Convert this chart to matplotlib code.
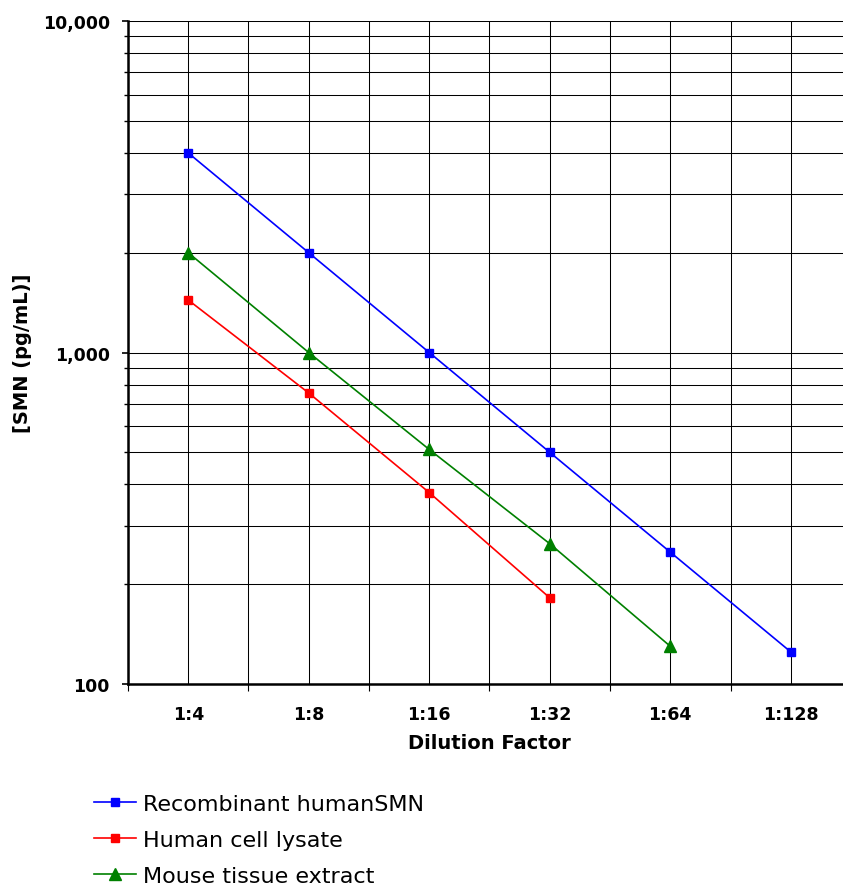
import numpy as np
import matplotlib.pyplot as plt
from matplotlib.ticker import FixedLocator, LogLocator, NullFormatter, FuncFormatter

# данные
dilutions = ['1:4', '1:8', '1:16', '1:32', '1:64', '1:128']
recombinant = [4000, 2000, 1000, 500, 250, 125]
cell_lysate = [1440, 755, 378, 182]
mouse_tissue = [2000, 1000, 510, 265, 130]

fig = plt.figure(figsize=(8.43, 8.87), dpi=100)
ax = fig.add_axes([0.1518, 0.2277, 0.8577, 0.7475])

x = np.arange(len(dilutions))
ax.plot(x[:len(recombinant)], recombinant, color='blue', marker='s', markersize=6,
        linewidth=1.2, label='Recombinant humanSMN')
ax.plot(x[:len(cell_lysate)], cell_lysate, color='red', marker='s', markersize=6,
        linewidth=1.2, label='Human cell lysate')
ax.plot(x[:len(mouse_tissue)], mouse_tissue, color='green', marker='^', markersize=8,
        linewidth=1.2, label='Mouse tissue extract')

ax.set_yscale('log')
ax.set_ylim(100, 10000)
ax.set_xlim(-0.5, len(dilutions) - 0.5)

# подписи по оси X по центру, засечки между категориями
ax.set_xticks(x)
ax.set_xticklabels(dilutions)
ax.xaxis.set_minor_locator(FixedLocator(np.arange(-0.5, len(dilutions), 1.0)))
ax.tick_params(axis='x', which='major', length=0, pad=15, labelsize=12.5)
ax.tick_params(axis='x', which='minor', length=5, width=0.8, direction='out')
for lbl in ax.get_xticklabels():
    lbl.set_fontweight('bold')

ax.yaxis.set_major_locator(LogLocator(base=10, numticks=5))
ax.yaxis.set_minor_locator(LogLocator(base=10, subs=np.arange(2, 10), numticks=20))
ax.yaxis.set_minor_formatter(NullFormatter())
ax.yaxis.set_major_formatter(FuncFormatter(lambda v, p: f'{int(round(v)):,}'))
ax.tick_params(axis='y', which='major', length=4, width=1.2, pad=9, labelsize=12.5)
ax.tick_params(axis='y', which='minor', length=3, width=1.0)
for lbl in ax.get_yticklabels():
    lbl.set_fontweight('bold')

ax.grid(True, which='both', axis='both', color='black', linewidth=0.75)
ax.set_axisbelow(True)
for side in ['top', 'right']:
    ax.spines[side].set_visible(False)
ax.spines['left'].set_linewidth(1.8)
ax.spines['bottom'].set_linewidth(1.8)

ax.set_xlabel('Dilution Factor', fontsize=14, fontweight='bold')
ax.xaxis.set_label_coords(0.5, -0.074)
ax.set_ylabel('[SMN (pg/mL)]', fontsize=14, fontweight='bold')
ax.yaxis.set_label_coords(-0.133, 0.5)

fig.legend(loc='upper left', bbox_to_anchor=(0.101, 0.114), frameon=False,
           fontsize=16, handlelength=1.9, handletextpad=0.3, labelspacing=0.72,
           borderaxespad=0)

fig.savefig('out.png', dpi=100)
